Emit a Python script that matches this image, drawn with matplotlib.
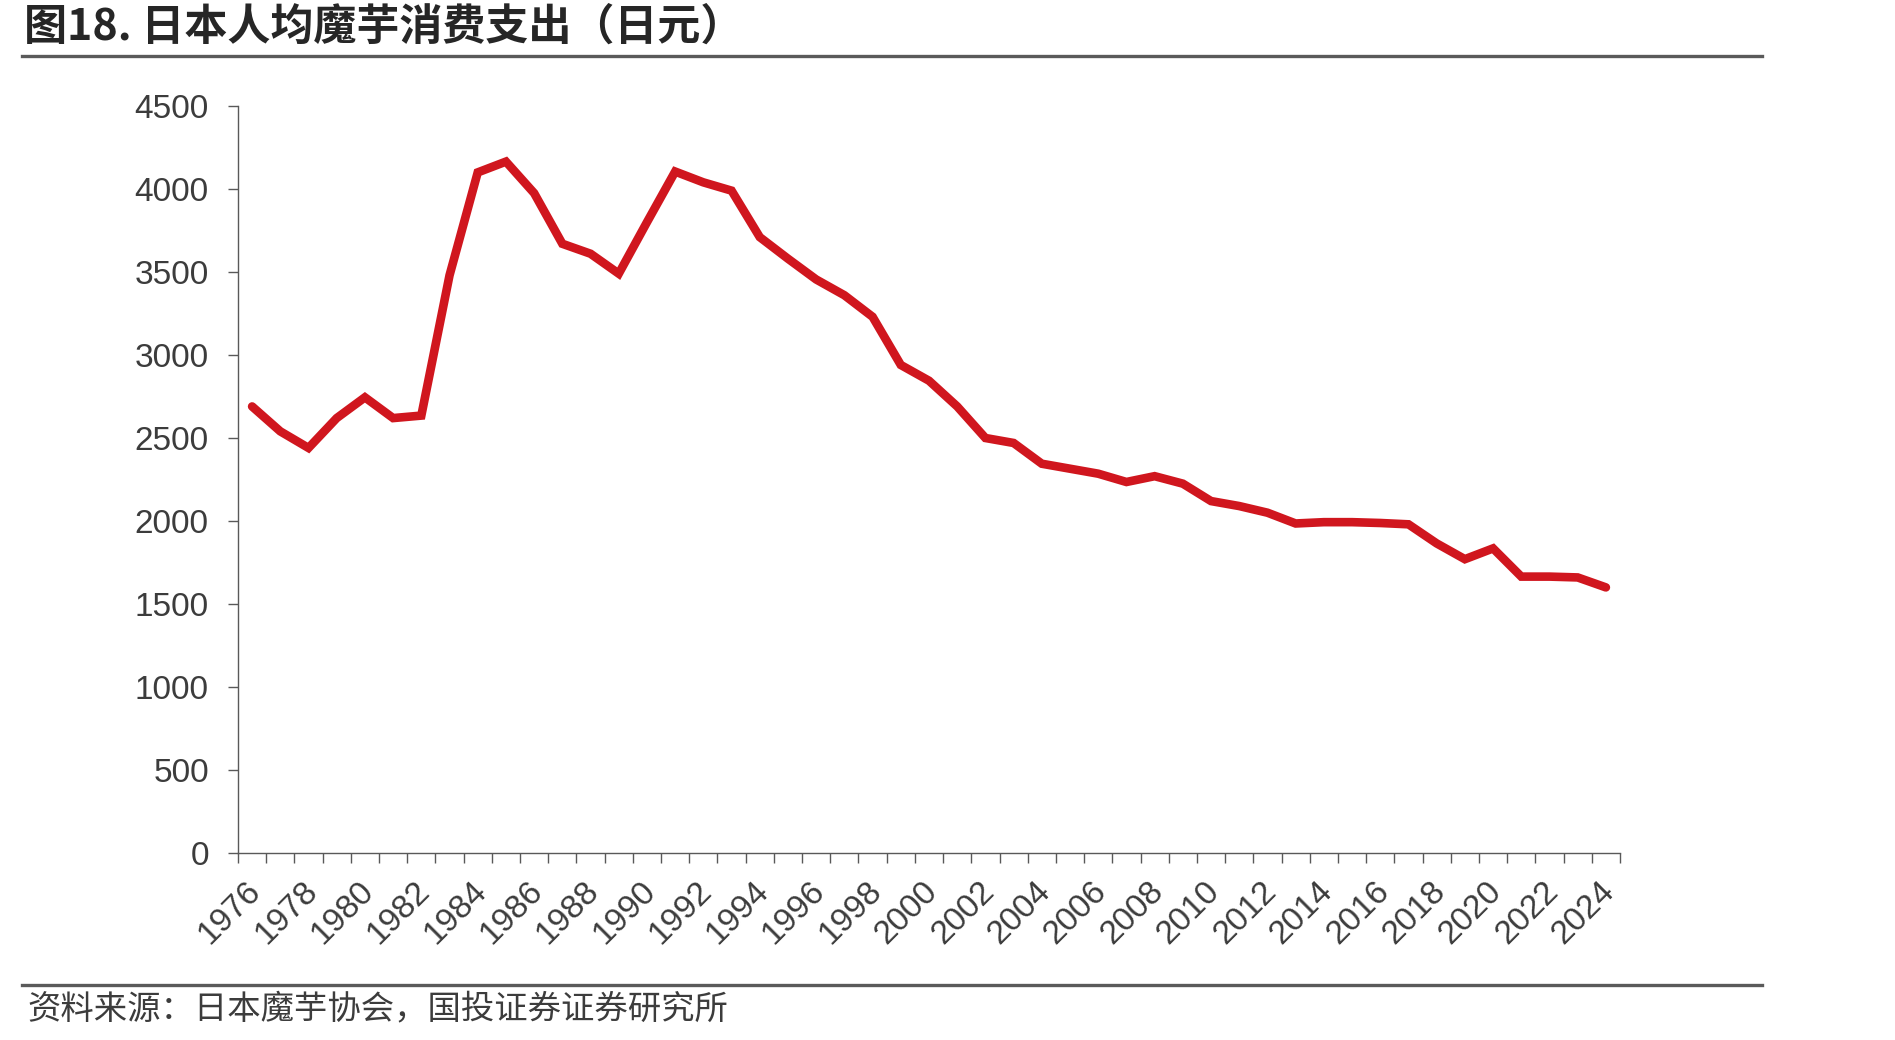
import matplotlib
matplotlib.use("Agg")
import matplotlib.pyplot as plt
import matplotlib.transforms as mtransforms
from matplotlib.lines import Line2D

# ── 数据 ──────────────────────────────────────────────
YEARS = list(range(1976, 2025))
SPENDING = [
    2690, 2540, 2440, 2620, 2745, 2620, 2635, 3480, 4100, 4165,
    3975, 3670, 3610, 3490, 3800, 4105, 4040, 3990, 3710, 3580,
    3455, 3360, 3230, 2940, 2845, 2690, 2500, 2470, 2345, 2315,
    2285, 2235, 2270, 2225, 2120, 2090, 2050, 1985, 1993, 1993,
    1988, 1980, 1865, 1770, 1835, 1665, 1665, 1660, 1600,
]
Y_TICKS = list(range(0, 4501, 500))

TITLE = "图18. 日本人均魔芋消费支出（日元）"
SOURCE = "资料来源：日本魔芋协会，国投证券证券研究所"

RED = "#D0161E"
GREY = "#3c3c3c"

plt.rcParams["font.family"] = ["Liberation Sans", "Noto Sans CJK SC", "DejaVu Sans"]

W, H = 1895, 1040
fig = plt.figure(figsize=(W / 100, H / 100), dpi=100)

# 坐标轴位置（像素换算）
ax = fig.add_axes([238 / W, 1 - 853 / H, (1620 - 238) / W, (853 - 106) / H])

x = list(range(len(YEARS)))
ax.plot(x, SPENDING, color=RED, linewidth=6.2,
        solid_joinstyle="miter", solid_capstyle="round", clip_on=False)

ax.set_xlim(-0.5, len(YEARS) - 0.5)
ax.set_ylim(0, 4500)
ax.set_yticks(Y_TICKS)
ax.set_yticklabels([str(v) for v in Y_TICKS])

# 类别轴：刻度线在类别边界，标签每两年一个
ax.set_xticks(x[::2])
ax.set_xticklabels([str(y) for y in YEARS[::2]], rotation=45,
                   ha="right", va="top", rotation_mode="anchor")
ax.set_xticks([i - 0.5 for i in range(len(YEARS) + 1)], minor=True)
ax.tick_params(axis="x", which="major", length=0, pad=16,
               labelsize=24, labelcolor=GREY)
ax.tick_params(axis="x", which="minor", length=7, width=1.0,
               color="#595959", direction="out")
ax.tick_params(axis="y", length=7, width=1.0, color="#595959",
               direction="out", labelsize=24, labelcolor=GREY, pad=14)

# 标签稍微左移
shift = mtransforms.ScaledTranslation(-5 / 72, 0, fig.dpi_scale_trans)
for lbl in ax.get_xticklabels():
    lbl.set_transform(lbl.get_transform() + shift)

for s in ("top", "right"):
    ax.spines[s].set_visible(False)
for s in ("left", "bottom"):
    ax.spines[s].set_color("#595959")
    ax.spines[s].set_linewidth(1.0)

# 标题与来源
fig.text(24 / W, 1 - 27 / H, TITLE, fontsize=31, fontweight="bold",
         color="#262626", va="center", ha="left",
         family=["Noto Sans CJK SC", "DejaVu Sans"])
fig.add_artist(Line2D([22 / W, 1762 / W], [1 - 56 / H] * 2,
                      color="#5a5a5a", linewidth=2.4, transform=fig.transFigure))
fig.add_artist(Line2D([22 / W, 1762 / W], [1 - 985 / H] * 2,
                      color="#5a5a5a", linewidth=2.4, transform=fig.transFigure))
fig.text(27 / W, 1 - 1009 / H, SOURCE, fontsize=24, color=GREY,
         va="center", ha="left", family=["Noto Sans CJK SC", "DejaVu Sans"])

fig.savefig("out.png", dpi=100, facecolor="white")
